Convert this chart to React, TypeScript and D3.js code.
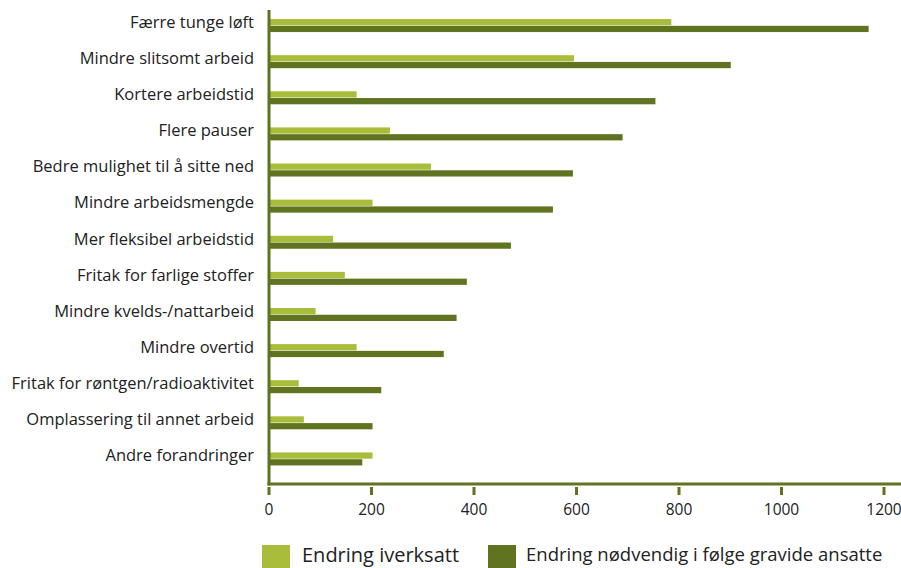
import React, { useEffect, useRef } from "react";
import * as d3 from "d3";

const categories = [
  "Færre tunge løft",
  "Mindre slitsomt arbeid",
  "Kortere arbeidstid",
  "Flere pauser",
  "Bedre mulighet til å sitte ned",
  "Mindre arbeidsmengde",
  "Mer fleksibel arbeidstid",
  "Fritak for farlige stoffer",
  "Mindre kvelds-/nattarbeid",
  "Mindre overtid",
  "Fritak for røntgen/radioaktivitet",
  "Omplassering til annet arbeid",
  "Andre forandringer",
];

const iverksatt = [785, 595, 171, 236, 316, 202, 125, 148, 91, 171, 58, 68, 202];
const nodvendig = [1170, 901, 754, 690, 593, 554, 472, 386, 366, 341, 219, 202, 182];

const seriesNames = ["Endring iverksatt", "Endring nødvendig i følge gravide ansatte"];
const xTicks = [0, 200, 400, 600, 800, 1000, 1200];

const LIGHT = "#a9bd3b";
const DARK = "#5f7320";
const FONT = "'Open Sans', sans-serif";

const App = () => {
  const svgRef = useRef<SVGSVGElement>(null);

  useEffect(() => {
    const width = 901;
    const height = 568;
    const svg = d3.select(svgRef.current);
    svg.selectAll("*").remove();
    svg.attr("width", width).attr("height", height);

    const axisX = 269;
    const axisY = 484;

    const x = d3.scaleLinear().domain([0, 1200]).range([axisX, 884]);
    const y0 = d3.scaleBand().domain(categories).range([7.5, 477]);
    const step = y0.bandwidth();
    const y1 = d3
      .scaleBand()
      .domain(["a", "b"])
      .range([step / 2 - 6.5, step / 2 + 6.5])
      .paddingInner(0.08);

    const rows = categories.map((c, i) => ({ c, a: iverksatt[i], b: nodvendig[i] }));

    const g = svg.append("g");
    const row = g
      .selectAll(".row")
      .data(rows)
      .enter()
      .append("g")
      .attr("transform", (d) => `translate(0,${y0(d.c)})`);

    row
      .append("rect")
      .attr("x", x(0))
      .attr("y", y1("a")!)
      .attr("width", (d) => x(d.a) - x(0))
      .attr("height", y1.bandwidth())
      .attr("fill", LIGHT);

    row
      .append("rect")
      .attr("x", x(0))
      .attr("y", y1("b")!)
      .attr("width", (d) => x(d.b) - x(0))
      .attr("height", y1.bandwidth())
      .attr("fill", DARK);

    row
      .append("text")
      .attr("x", 254)
      .attr("y", step / 2 - 3.5)
      .attr("dy", "0.35em")
      .attr("text-anchor", "end")
      .attr("font-family", FONT)
      .attr("font-size", 16.5)
      .attr("fill", "#222")
      .text((d) => d.c);

    // axes
    svg
      .append("line")
      .attr("x1", axisX)
      .attr("x2", axisX)
      .attr("y1", 10)
      .attr("y2", axisY + 1.5)
      .attr("stroke", DARK)
      .attr("stroke-width", 3);

    svg
      .append("line")
      .attr("x1", axisX - 1.5)
      .attr("x2", width)
      .attr("y1", axisY)
      .attr("y2", axisY)
      .attr("stroke", DARK)
      .attr("stroke-width", 3);

    const ticks = svg.append("g");
    ticks
      .selectAll("line")
      .data(xTicks)
      .enter()
      .append("line")
      .attr("x1", (d) => x(d))
      .attr("x2", (d) => x(d))
      .attr("y1", axisY + 3)
      .attr("y2", axisY + 11)
      .attr("stroke", DARK)
      .attr("stroke-width", 3);

    ticks
      .selectAll("text")
      .data(xTicks)
      .enter()
      .append("text")
      .attr("x", (d) => x(d))
      .attr("y", 510)
      .attr("dy", "0.35em")
      .attr("text-anchor", "middle")
      .attr("font-family", FONT)
      .attr("font-size", 15.5)
      .attr("fill", "#222")
      .text((d) => d);

    // legend
    const legendX = [262, 488];
    const legendSize = [20, 18.5];
    const legend = svg
      .selectAll(".legend")
      .data(seriesNames)
      .enter()
      .append("g")
      .attr("transform", (d, i) => `translate(${legendX[i]},545)`);

    legend
      .append("rect")
      .attr("width", 28)
      .attr("height", 24)
      .attr("fill", (d, i) => (i === 0 ? LIGHT : DARK));

    legend
      .append("text")
      .attr("x", (d, i) => (i === 0 ? 40 : 38))
      .attr("y", 10)
      .attr("dy", "0.35em")
      .attr("font-family", FONT)
      .attr("font-size", (d, i) => legendSize[i])
      .attr("fill", "#222")
      .text((d) => d);
  }, []);

  return (
    <svg
      ref={svgRef}
      style={{ position: "absolute", left: 0, top: 0, display: "block" }}
    ></svg>
  );
};

export default App;
